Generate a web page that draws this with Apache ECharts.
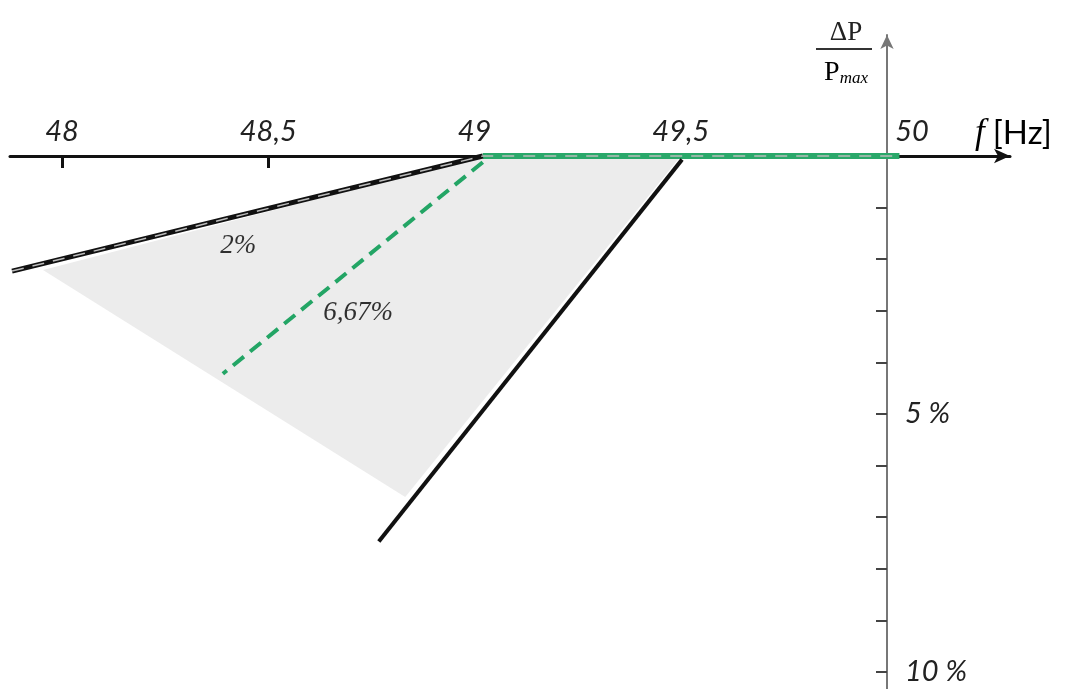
<!DOCTYPE html>
<html>
<head>
<meta charset="utf-8">
<script src="https://cdn.jsdelivr.net/npm/echarts@6/dist/echarts.min.js"></script>
<style>html,body{margin:0;padding:0;background:#fff}#c{width:1066px;height:689px}</style>
</head>
<body>
<div id="c"></div>
<script>
// ---- data (f in Hz, dP/Pmax in % of Pmax, drawn downward) ----
const xTicks = [48, 48.5];
const xTickLabels = [48, 48.5, 49, 49.5, 50];
const yTicks = [1, 2, 3, 4, 5, 6, 7, 8, 9, 10];
const yTickLabels = [5, 10];
const droop2 = [[47.879, 2.23], [49.02, 0]];
const droop2Overlay = [[47.879, 2.23], [49.02, 0], [50.03, 0]];
const flatGreen = [[49.02, 0], [50.03, 0]];
const droop667 = [[49.02, 0.12], [48.39, 4.22]];
const steep = [[49.5, 0.1], [48.771, 7.44]];
const shade = [[47.954, 2.21], [49.02, 0], [49.5, 0], [48.832, 6.61]];
const notes = [{ name: '2%', value: [48.427, 1.74] }, { name: '6,67%', value: [48.718, 3.04] }];
const xRange = [47.874, 50.298];
const yRange = [-2.345, 10.33];

const chart = echarts.init(document.getElementById('c'), null, { renderer: 'canvas' });
const labelFont = 'Lato';
const option = {
  animation: false,
  backgroundColor: '#fff',
  grid: { left: 10, right: 56, top: 35, bottom: 0, containLabel: false, outerBoundsMode: 'none' },
  xAxis: {
    type: 'value', position: 'top', offset: -121, min: xRange[0], max: xRange[1],
    axisLine: { onZero: false, symbol: ['none', 'arrow'], symbolSize: [11, 16],
      lineStyle: { color: '#111', width: 3 } },
    axisTick: { show: true, inside: true, length: 12, customValues: xTicks,
      lineStyle: { color: '#111', width: 3 } },
    axisLabel: { show: true, customValues: xTickLabels, margin: 10,
      formatter: v => v === 50 ? '{r|50}' : String(v).replace('.', ','),
      fontFamily: labelFont, fontStyle: 'italic', fontSize: 29, color: '#222',
      rich: { r: { fontFamily: labelFont, fontStyle: 'italic', fontSize: 29, color: '#222', padding: [0, 0, 0, 50] } } },
    splitLine: { show: false }
  },
  yAxis: {
    type: 'value', inverse: true, position: 'right', offset: -123, min: yRange[0], max: yRange[1],
    axisLine: { show: true, symbol: ['none', 'arrow'], symbolSize: [10, 14],
      lineStyle: { color: '#777', width: 2 } },
    axisTick: { show: true, inside: true, length: 11, customValues: yTicks,
      lineStyle: { color: '#444', width: 2 } },
    axisLabel: { show: true, customValues: yTickLabels, margin: 18, formatter: v => v + ' %',
      fontFamily: labelFont, fontStyle: 'italic', fontSize: 29, color: '#222' },
    splitLine: { show: false }
  },
  graphic: [
    { type: 'text', x: 846, y: 19, z: 10, style: { text: 'ΔP', align: 'center', fontFamily: 'Liberation Serif', fontSize: 27, fill: '#222' } },
    { type: 'line', z: 10, shape: { x1: 816, y1: 49, x2: 872, y2: 49 }, style: { stroke: '#333', lineWidth: 2 } },
    { type: 'text', x: 846, y: 58, z: 10, style: { text: '{b|P}{c|max}', align: 'center',
      rich: { b: { fontFamily: 'Liberation Serif', fontSize: 28, color: '#222' },
              c: { fontFamily: 'Liberation Serif', fontStyle: 'italic', fontSize: 17, color: '#222', verticalAlign: 'bottom', padding: [12, 0, 0, 0] } } } },
    { type: 'text', x: 975, y: 116, z: 10, style: { text: '{f|f}{h|[Hz]}',
      rich: { f: { fontFamily: 'Liberation Serif', fontStyle: 'italic', fontSize: 35, color: '#222', padding: [0, 8, 0, 0] },
              h: { fontFamily: labelFont, fontSize: 33, color: '#222' } } } }
  ],
  series: [
    { type: 'custom', name: 'shade', z: 1, data: [0],
      renderItem: (params, api) => ({
        type: 'polygon', shape: { points: shade.map(p => api.coord(p)) },
        style: { fill: '#ececec' }
      }) },
    { type: 'line', data: flatGreen, z: 3, symbol: 'none', lineStyle: { color: '#2aa86a', width: 6 } },
    { type: 'line', data: droop2, z: 4, symbol: 'none', lineStyle: { color: '#111', width: 5 } },
    { type: 'line', data: droop2Overlay, z: 5, symbol: 'none', lineStyle: { color: '#bbb', width: 1.5, type: [12, 9] } },
    { type: 'line', data: steep, z: 4, symbol: 'none', lineStyle: { color: '#111', width: 4, cap: 'square' } },
    { type: 'line', data: droop667, z: 6, symbol: 'none', lineStyle: { color: '#23a565', width: 4, type: [14, 8] } },
    { type: 'scatter', data: notes, z: 7, symbolSize: 0, silent: true,
      label: { show: true, position: 'inside', formatter: p => p.name,
        fontFamily: 'Liberation Serif', fontStyle: 'italic', fontSize: 27, color: '#000' } }
  ]
};
chart.setOption(option);
</script>
</body>
</html>
